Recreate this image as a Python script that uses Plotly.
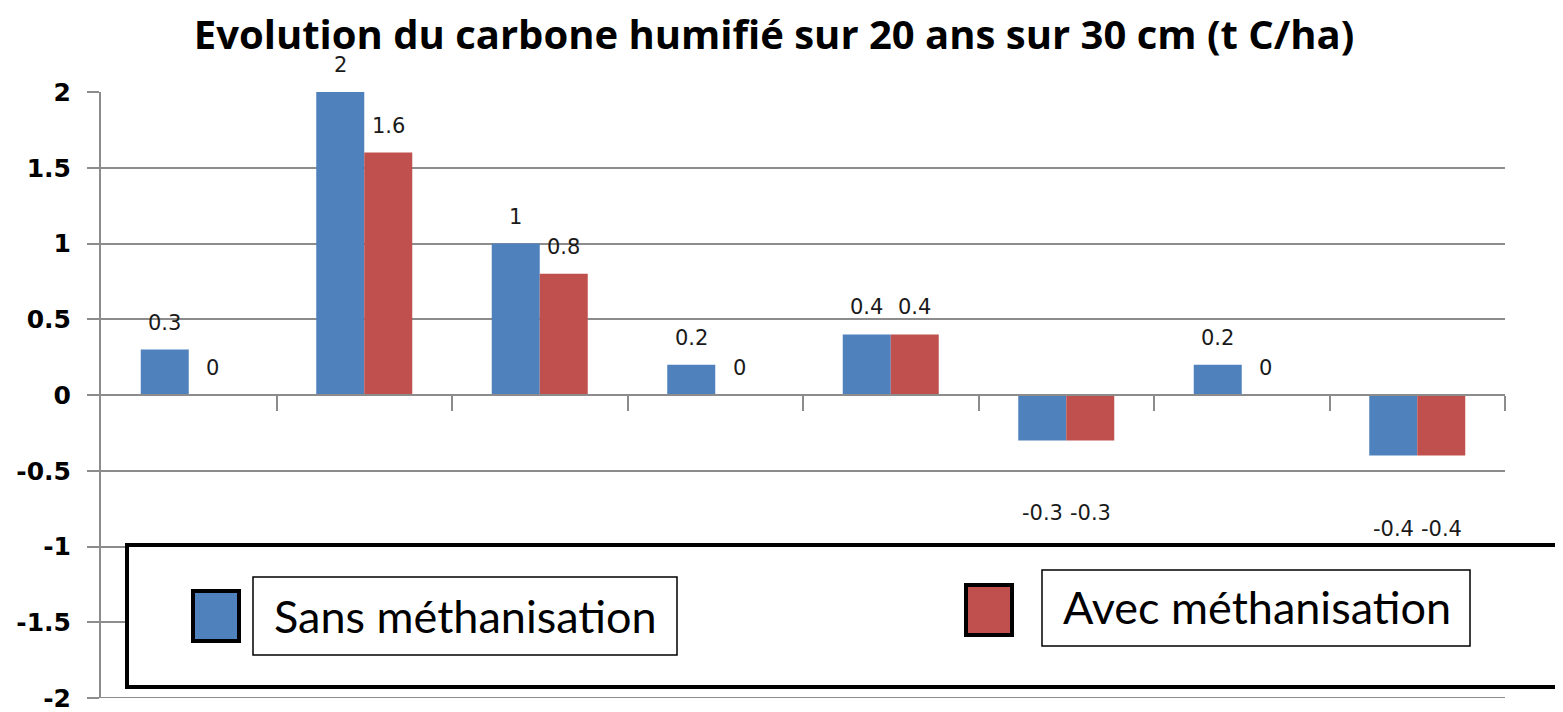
import plotly.graph_objects as go

categories = [0, 1, 2, 3, 4, 5, 6, 7]
sans = [0.3, 2, 1, 0.2, 0.4, -0.3, 0.2, -0.4]
avec = [0, 1.6, 0.8, 0, 0.4, -0.3, 0, -0.4]
series_names = ["Sans méthanisation", "Avec méthanisation"]
colors = ["#4F81BD", "#C0504D"]
ytick_vals = [-2, -1.5, -1, -0.5, 0, 0.5, 1, 1.5, 2]
ytick_text = ["-2", "-1.5", "-1", "-0.5", "0", "0.5", "1", "1.5", "2"]
title = "Evolution du carbone humifié sur 20 ans sur 30 cm (t C/ha)"

W, H = 1563, 712
OFF = 8  # page body margin
L, R, T, B = 101, 1505, 92, 698
BARGAP = 0.453
GRID = "#8c8c8c"


def fx(px):
    return (px - L) / (R - L)


def fy(py):
    return (B - py) / (B - T)


fig = go.Figure()
for vals, name, col in zip([sans, avec], series_names, colors):
    fig.add_trace(go.Bar(x=categories, y=vals, name=name, marker_color=col,
                         marker_line_width=0, showlegend=False))

half = (1 - BARGAP) / 4
annotations = []
for k, vals in enumerate([sans, avec]):
    off = -half if k == 0 else half
    for c, v in zip(categories, vals):
        annotations.append(dict(
            x=c + off, y=v, xref="x", yref="y", text=f"{v:g}", showarrow=False,
            yshift=27 if v >= 0 else -73, yanchor="middle",
            font=dict(family="DejaVu Sans", size=21, color="#1a1a1a")))

annotations.append(dict(x=fx(272), y=fy(616), xref="paper", yref="paper",
                        text=series_names[0], showarrow=False, xanchor="left",
                        yanchor="middle",
                        font=dict(family="Lato", size=45, color="black")))
annotations.append(dict(x=fx(1061), y=fy(607), xref="paper", yref="paper",
                        text=series_names[1], showarrow=False, xanchor="left",
                        yanchor="middle",
                        font=dict(family="Lato", size=45, color="black")))

shapes = [
    dict(type="line", xref="paper", yref="y", x0=-12 / (R - L), x1=1,
         y0=ytick_vals[0], y1=ytick_vals[0], line=dict(color=GRID, width=2),
         layer="below"),
    dict(type="rect", xref="paper", yref="paper", x0=fx(127), x1=fx(1600),
         y0=fy(687), y1=fy(545), line=dict(color="black", width=4),
         fillcolor="white", layer="above"),
    dict(type="rect", xref="paper", yref="paper", x0=fx(193), x1=fx(239),
         y0=fy(641), y1=fy(591), line=dict(color="black", width=4),
         fillcolor=colors[0], layer="above"),
    dict(type="rect", xref="paper", yref="paper", x0=fx(253), x1=fx(677),
         y0=fy(655), y1=fy(577), line=dict(color="black", width=1.5),
         fillcolor="rgba(0,0,0,0)", layer="above"),
    dict(type="rect", xref="paper", yref="paper", x0=fx(966), x1=fx(1012),
         y0=fy(635), y1=fy(585), line=dict(color="black", width=4),
         fillcolor=colors[1], layer="above"),
    dict(type="rect", xref="paper", yref="paper", x0=fx(1042), x1=fx(1470),
         y0=fy(646), y1=fy(570), line=dict(color="black", width=1.5),
         fillcolor="rgba(0,0,0,0)", layer="above"),
]

fig.update_layout(
    width=W - OFF, height=H - OFF,
    margin=dict(l=L - OFF, r=W - R, t=T - OFF, b=H - B, autoexpand=False),
    plot_bgcolor="white", paper_bgcolor="white",
    barmode="group", bargap=BARGAP, bargroupgap=0,
    title=dict(text=f"<b>{title}</b>", x=(774 - OFF) / (W - OFF),
               xanchor="center", y=1 - (35 - OFF) / (H - OFF),
               yanchor="middle",
               font=dict(family="Open Sans", size=40, color="black")),
    xaxis=dict(range=[-0.5, 7.5], tickmode="array",
               tickvals=[c + 0.5 for c in categories], showticklabels=False,
               ticks="outside", ticklen=15, tickcolor=GRID, tickwidth=2,
               showline=True, linecolor=GRID, linewidth=2,
               showgrid=False, zeroline=False, anchor="free", position=0.5,
               fixedrange=True),
    yaxis=dict(range=[-2, 2], tickmode="array", tickvals=ytick_vals,
               ticktext=[f"<b>{t}</b>" for t in ytick_text],
               ticks="outside", ticklen=12, tickcolor=GRID, tickwidth=2,
               showline=True, linecolor=GRID, linewidth=2,
               showgrid=True, gridcolor=GRID, gridwidth=2,
               zeroline=False, ticklabelstandoff=11,
               ticklabeloverflow="allow",
               tickfont=dict(family="DejaVu Sans", size=25, color="black"),
               fixedrange=True),
    annotations=annotations,
    shapes=shapes,
)

fig.write_html("out.html")
